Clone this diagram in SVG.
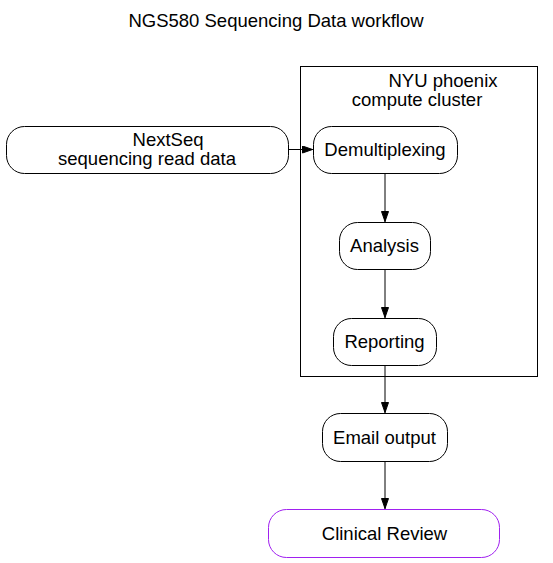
<svg xmlns="http://www.w3.org/2000/svg" width="553" height="563" viewBox="0 0 553 563">
<defs>
<style>
text{font-family:"Liberation Sans",Arial,sans-serif;font-size:18.5px;fill:#000;text-anchor:middle}
.n{fill:#fff;stroke:#000;stroke-width:1}
.e{stroke:#000;stroke-width:1;fill:none}
</style>
<marker id="ah" markerWidth="11" markerHeight="8" refX="11" refY="4" orient="auto" markerUnits="userSpaceOnUse">
<path d="M0.5,0.5 L10.5,4 L0.5,7.5 Z" fill="#000" stroke="#000"/>
</marker>
</defs>
<rect width="553" height="563" fill="#fff"/>
<text x="276" y="27">NGS580 Sequencing Data workflow</text>
<g id="cluster">
<rect x="300.5" y="66.5" width="237" height="310" fill="none" stroke="#000"/>
<text x="443" y="87">NYU phoenix</text>
<text x="417" y="106">compute cluster</text>
</g>
<g id="connectors">
<path class="e" d="M288,149.5 L313,149.5" marker-end="url(#ah)"/>
<path class="e" d="M385,173 L385,222" marker-end="url(#ah)"/>
<path class="e" d="M385,269 L385,318" marker-end="url(#ah)"/>
<path class="e" d="M385,365 L385,413" marker-end="url(#ah)"/>
<path class="e" d="M385,462 L385,509" marker-end="url(#ah)"/>
</g>
<g id="nextseq">
<rect class="n" x="6.5" y="126.5" width="282" height="47" rx="18"/>
<text x="168" y="146">NextSeq</text>
<text x="147" y="165">sequencing read data</text>
</g>
<g id="demux">
<rect class="n" x="313.5" y="126.5" width="144" height="47" rx="18"/>
<text x="385" y="156">Demultiplexing</text>
</g>
<g id="analysis">
<rect class="n" x="339.5" y="222.5" width="91" height="47" rx="18"/>
<text x="384.5" y="252">Analysis</text>
</g>
<g id="reporting">
<rect class="n" x="333.5" y="318.5" width="103" height="47" rx="18"/>
<text x="384.5" y="348">Reporting</text>
</g>
<g id="email">
<rect class="n" x="322.5" y="413.5" width="125" height="48" rx="18"/>
<text x="384.5" y="444">Email output</text>
</g>
<g id="clinical">
<rect class="n" x="268.5" y="509.5" width="231" height="48" rx="18" style="stroke:#a020f0"/>
<text x="384.5" y="540">Clinical Review</text>
</g>
</svg>
